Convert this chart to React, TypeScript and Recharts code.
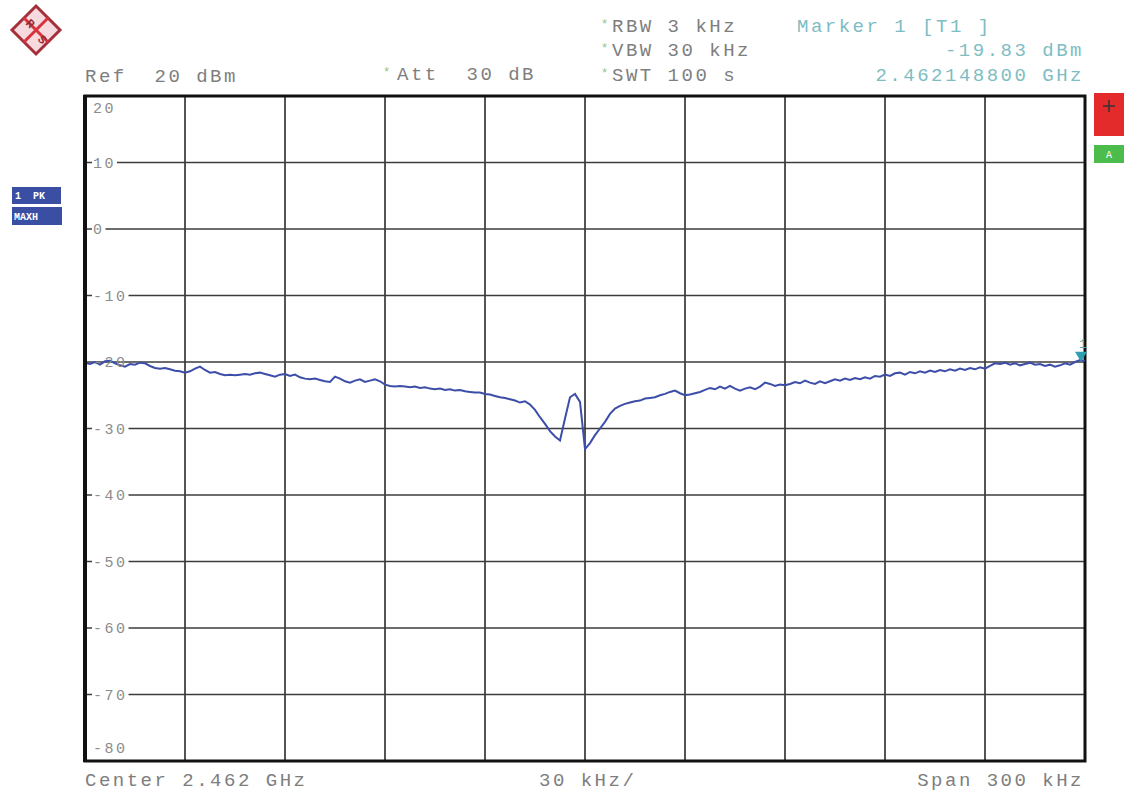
import {
  LineChart,
  Line,
  XAxis,
  YAxis,
  CartesianGrid,
  ReferenceArea,
  ReferenceDot,
} from 'recharts';

// sweep: offset from centre 2.462 GHz, kHz; one trace point every 1.5 kHz
const spanStartKHz = -150;
const sweepStepKHz = 1.5;

// trace 1 (PK, MAXH), dBm
const traceLevels = [
  -20.1, -20.3, -20.0, -20.4, -19.9, -19.8, -20.2, -20.5, -20.7, -20.3,
  -20.4, -20.1, -20.2, -20.6, -20.9, -21.0, -20.9, -21.1, -21.3, -21.4,
  -21.6, -21.4, -21.0, -20.7, -21.2, -21.6, -21.5, -21.8, -22.0, -21.9,
  -22.0, -21.9, -21.8, -21.9, -21.7, -21.6, -21.8, -22.0, -22.2, -21.9,
  -21.8, -22.1, -21.9, -22.3, -22.5, -22.6, -22.5, -22.7, -22.9, -23.0,
  -22.2, -22.5, -22.9, -23.1, -22.8, -22.6, -23.0, -22.8, -22.6, -22.9,
  -23.4, -23.6, -23.7, -23.6, -23.7, -23.8, -23.7, -23.9, -23.8, -24.0,
  -24.1, -24.0, -24.2, -24.1, -24.3, -24.2, -24.4, -24.5, -24.6, -24.6,
  -24.8, -24.9, -25.1, -25.3, -25.4, -25.6, -25.8, -26.1, -25.9, -26.4,
  -27.2, -28.3, -29.3, -30.4, -31.2, -31.8, -28.5, -25.3, -24.8, -26.0,
  -33.1, -32.2, -31.0, -30.0, -29.0, -27.8, -27.0, -26.6, -26.3, -26.1,
  -25.9, -25.8, -25.5, -25.4, -25.3, -25.0, -24.8, -24.5, -24.3, -24.7,
  -25.0, -24.9, -24.7, -24.5, -24.2, -23.9, -24.1, -23.7, -24.0, -23.6,
  -24.0, -24.3, -24.0, -23.8, -24.1, -23.7, -23.1, -23.3, -23.6, -23.4,
  -23.5, -23.3, -23.0, -23.2, -22.8, -23.1, -23.3, -22.9, -23.2, -22.9,
  -22.6, -22.8, -22.5, -22.7, -22.4, -22.6, -22.3, -22.5, -22.1, -22.2,
  -21.9, -22.1, -21.7, -21.6, -21.9, -21.5, -21.7, -21.4, -21.6, -21.3,
  -21.5, -21.2, -21.4, -21.1, -21.3, -21.0, -21.2, -20.9, -21.1, -20.8,
  -21.0, -20.6, -20.2, -20.3, -20.1, -20.4, -20.2, -20.5, -20.3, -20.1,
  -20.4, -20.3, -20.6, -20.4, -20.7, -20.5, -20.2, -20.4, -20.0, -19.7,
  -19.83,
];

const freqTicks = [-150, -120, -90, -60, -30, 0, 30, 60, 90, 120, 150];
const levelTicks = [20, 10, 0, -10, -20, -30, -40, -50, -60, -70, -80];

// marker 1 [T1]
const markerOffsetKHz = 148.8;
const markerLevel = -19.83;

const data = traceLevels.map((level, i) => ({
  f: spanStartKHz + i * sweepStepKHz,
  level,
}));

const MONO = '"Liberation Mono", "Courier New", monospace';
const GREY = '#7e7e7e';
const TEAL = '#7dbdc3';

function LevelTick(props: any) {
  const { x, y, payload } = props;
  const v = payload.value as number;
  let dy = 0;
  if (v === 20) dy = 12;
  if (v === -80) dy = -13;
  const label = String(v);
  // the -20 label sits under the trace, so it gets no knock-out box
  const boxed = v !== 20 && v !== -80 && v !== -20;
  return (
    <g>
      {boxed && (
        <rect x={x + 7} y={y + dy - 8} width={label.length * 11.5 + 2} height={16} fill="#fff" />
      )}
      <text
        x={x + 8}
        y={y + dy}
        dy="0.36em"
        fontFamily={MONO}
        fontSize={15}
        letterSpacing={2.5}
        fill="#8c8c8c"
      >
        {label}
      </text>
    </g>
  );
}

function MarkerShape(props: any) {
  const { cx, cy } = props;
  return (
    <g>
      <polygon points={`${cx - 6},${cy - 9} ${cx + 6},${cy - 9} ${cx},${cy + 1}`} fill="#2e9fb0" />
      <text x={cx - 2} y={cy - 13} fontFamily={MONO} fontSize={13} fill="#4aa9b5">
        1
      </text>
    </g>
  );
}

function HeaderText({ x, y, children, color = GREY, anchor = 'start' }: any) {
  return (
    <text
      x={x}
      y={y}
      textAnchor={anchor}
      fontFamily={MONO}
      fontSize={19}
      letterSpacing={2.5}
      fill={color}
      style={{ whiteSpace: 'pre' }}
    >
      {children}
    </text>
  );
}

function Star({ x, y }: any) {
  return (
    <text x={x} y={y} fontFamily={MONO} fontSize={12} fill="#8cc48c">
      *
    </text>
  );
}

export default function App() {
  return (
    <div style={{ position: 'absolute', left: 0, top: 0, width: 1125, height: 792, background: '#fff' }}>
      <LineChart
        width={1125}
        height={792}
        data={data}
        margin={{ top: 96, right: 40, bottom: 31, left: 84 }}
      >
        <CartesianGrid horizontal={false} stroke="#2a2a2a" strokeWidth={1.6} />
        <CartesianGrid vertical={false} stroke="#3c3c3c" strokeWidth={1.4} />
        <XAxis
          dataKey="f"
          type="number"
          domain={[-150, 150]}
          ticks={freqTicks}
          hide
        />
        <YAxis
          type="number"
          domain={[-80, 20]}
          ticks={levelTicks}
          width={1}
          axisLine={false}
          tickLine={false}
          tickSize={0}
          tickMargin={0}
          tick={<LevelTick />}
          interval={0}
        />
        <Line
          dataKey="level"
          type="linear"
          stroke="#3c4ea8"
          strokeWidth={2}
          dot={false}
          isAnimationActive={false}
        />
        <ReferenceArea
          x1={-150}
          x2={150}
          y1={-80}
          y2={20}
          fill="none"
          fillOpacity={0}
          stroke="#111"
          strokeWidth={3}
          strokeOpacity={1}
        />
        <ReferenceDot
          x={markerOffsetKHz}
          y={markerLevel}
          shape={<MarkerShape />}
          ifOverflow="visible"
        />
      </LineChart>

      <svg
        width={1125}
        height={792}
        style={{ position: 'absolute', left: 0, top: 0, pointerEvents: 'none' }}
      >
        {/* R&S logo */}
        <polygon points="36,6 60,30 36,54 12,30" fill="#f6dadd" stroke="#a5303a" strokeWidth={3} />
        <line x1={24} y1={18} x2={48} y2={42} stroke="#d9323e" strokeWidth={3} />
        <line x1={24} y1={42} x2={48} y2={18} stroke="#d9323e" strokeWidth={3} />
        <text x={27} y={27} fontFamily={MONO} fontSize={12} fontWeight="bold" fill="#9a2a33" transform="rotate(45 30 23)">R</text>
        <text x={39} y={43} fontFamily={MONO} fontSize={12} fontWeight="bold" fill="#9a2a33" transform="rotate(45 42 39)">S</text>

        {/* left border of the diagram is drawn heavier on the instrument */}
        <line x1={85} y1={95} x2={85} y2={762} stroke="#111" strokeWidth={4} />

        {/* header */}
        <HeaderText x={85} y={82}>Ref  20 dBm</HeaderText>
        <Star x={383} y={76} />
        <HeaderText x={397} y={80}>Att  30 dB</HeaderText>
        <Star x={601} y={28} />
        <HeaderText x={612} y={32}>RBW 3 kHz</HeaderText>
        <Star x={601} y={52} />
        <HeaderText x={612} y={56}>VBW 30 kHz</HeaderText>
        <Star x={601} y={77} />
        <HeaderText x={612} y={81}>SWT 100 s</HeaderText>
        <HeaderText x={797} y={32} color={TEAL}>Marker 1 [T1 ]</HeaderText>
        <HeaderText x={1084} y={56} color={TEAL} anchor="end">-19.83 dBm</HeaderText>
        <HeaderText x={1084} y={81} color={TEAL} anchor="end">2.462148800 GHz</HeaderText>

        {/* footer */}
        <HeaderText x={85} y={786}>Center 2.462 GHz</HeaderText>
        <HeaderText x={539} y={786}>30 kHz/</HeaderText>
        <HeaderText x={1084} y={786} anchor="end">Span 300 kHz</HeaderText>

        {/* trace info */}
        <rect x={12} y={187} width={49} height={17} fill="#3a4ea3" />
        <text x={15} y={199} fontFamily={MONO} fontSize={10} fontWeight="bold" fill="#fff" style={{ whiteSpace: 'pre' }}>1  PK</text>
        <rect x={12} y={207} width={50} height={18} fill="#3a4ea3" />
        <text x={14} y={220} fontFamily={MONO} fontSize={10} fontWeight="bold" fill="#fff">MAXH</text>

        {/* right status boxes */}
        <rect x={1094} y={93} width={30} height={43} fill="#e32b2b" />
        <line x1={1103} y1={106} x2={1115} y2={106} stroke="#333" strokeWidth={1.5} />
        <line x1={1109} y1={100} x2={1109} y2={112} stroke="#333" strokeWidth={1.5} />
        <rect x={1094} y={145} width={30} height={18} fill="#4cbd4c" />
        <text x={1109} y={158} textAnchor="middle" fontFamily={MONO} fontSize={10} fill="#fff">A</text>
      </svg>
    </div>
  );
}
